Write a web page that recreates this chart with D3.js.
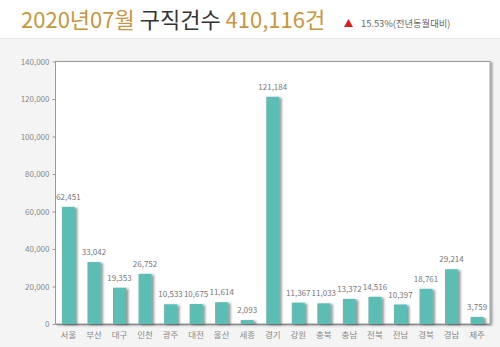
<!DOCTYPE html>
<html><head><meta charset="utf-8">
<script src="https://cdn.jsdelivr.net/npm/d3@7"></script>
<style>
html,body{margin:0;padding:0;background:#f4f4f4;}
svg{display:block;font-family:"Noto Sans CJK KR","Noto Sans",sans-serif;}
</style></head>
<body>
<svg id="c" width="500" height="347"></svg>
<script>
const categories = ["서울","부산","대구","인천","광주","대전","울산","세종","경기","강원","충북","충남","전북","전남","경북","경남","제주"];
const values = [62451,33042,19353,26752,10533,10675,11614,2093,121184,11367,11033,13372,14516,10397,18761,29214,3759];
const yTicks = [0,20000,40000,60000,80000,100000,120000,140000];
const titleParts = [["2020년07월","#c8963e"],[" 구직건수 ","#333333"],["410,116건","#c8963e"]];
const changeText = "15.53%(전년동월대비)";

const svg = d3.select("#c");
const W = 500, H = 347;
const m = {l:55.5, r:490, t:61.5, b:324};

const defs = svg.append("defs");
const f = defs.append("filter").attr("id","sh").attr("x","-20%").attr("y","-5%").attr("width","160%").attr("height","120%");
f.append("feDropShadow").attr("dx",2.5).attr("dy",1).attr("stdDeviation",1).attr("flood-color","#444").attr("flood-opacity",0.55);
const f2 = defs.append("filter").attr("id","sh2").attr("x","-5%").attr("y","-5%").attr("width","110%").attr("height","110%");
f2.append("feDropShadow").attr("dx",2).attr("dy",1).attr("stdDeviation",1).attr("flood-color","#000").attr("flood-opacity",0.35);

// header
svg.append("rect").attr("x",0).attr("y",0).attr("width",W).attr("height",38).attr("fill","#ffffff");
svg.append("line").attr("x1",0).attr("x2",W).attr("y1",38.5).attr("y2",38.5).attr("stroke","#e6e6e6");
const tt = svg.append("text").attr("x",21).attr("y",28).attr("font-size",22).attr("font-weight",400).attr("xml:space","preserve");
titleParts.forEach(p=>tt.append("tspan").attr("fill",p[1]).text(p[0]));
svg.append("path").attr("d","M344,27 L348.5,19 L353,27 Z").attr("fill","#d61e1e");
svg.append("text").attr("x",361).attr("y",27).attr("font-size",9.3).attr("fill","#666").text(changeText);

// scales
const x = d3.scaleBand().domain(categories).range([m.l, m.r]).paddingInner(0.49).paddingOuter(0.25);
const y = d3.scaleLinear().domain([0,140000]).range([m.b, m.t]);

// plot area
svg.append("rect").attr("x",m.l).attr("y",m.t).attr("width",m.r-m.l).attr("height",m.b-m.t)
  .attr("fill","#fff").attr("stroke","#9a9a9a").attr("stroke-width",1).attr("filter","url(#sh2)");

// y axis
const ya = svg.append("g").attr("transform",`translate(${m.l},0)`)
  .call(d3.axisLeft(y).tickValues(yTicks).tickSize(3).tickPadding(3).tickFormat(d3.format(",")));
ya.select(".domain").remove();
ya.selectAll("line").attr("stroke","#999");
ya.selectAll("text").attr("font-size",8).style("fill","#888").attr("font-family","'Noto Sans CJK KR',sans-serif");

// x axis
const xa = svg.append("g").attr("transform",`translate(0,${m.b})`)
  .call(d3.axisBottom(x).tickSize(0).tickPadding(8));
xa.select(".domain").attr("stroke","#888");
xa.selectAll("text").attr("font-size",8.5).style("fill","#8a8a8a").attr("font-family","'Noto Sans CJK KR',sans-serif");

// bars
svg.append("g").selectAll("rect").data(values).join("rect")
  .attr("x",(d,i)=>x(categories[i]))
  .attr("y",d=>y(d))
  .attr("width",x.bandwidth())
  .attr("height",d=>m.b - y(d))
  .attr("fill","#5bbdb5")
  .attr("filter","url(#sh)");

// value labels
svg.append("g").selectAll("text").data(values).join("text")
  .attr("x",(d,i)=>x(categories[i])+x.bandwidth()/2)
  .attr("y",d=>y(d)-7)
  .attr("text-anchor","middle")
  .attr("font-size",8)
  .attr("fill","#777")
  .text(d=>d3.format(",")(d));
</script>
</body></html>
